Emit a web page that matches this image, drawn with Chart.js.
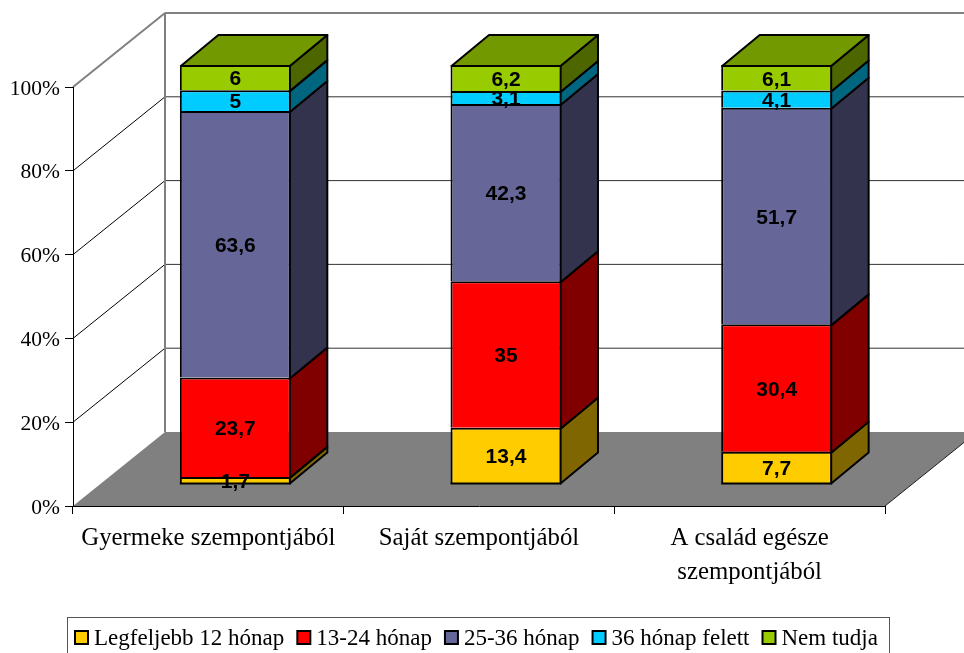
<!DOCTYPE html>
<html>
<head>
<meta charset="utf-8">
<style>
  html, body { margin: 0; padding: 0; background: #fff; overflow: hidden; }
  #wrap { width: 964px; height: 653px; position: relative; }
</style>
<script src="https://cdn.jsdelivr.net/npm/chart.js@4/dist/chart.umd.min.js"></script>
</head>
<body>
<div id="wrap"><canvas id="chart" width="964" height="653"></canvas></div>
<script>
// Data
const categories = ["Gyermeke szempontjából", "Saját szempontjából", ["A család egésze", "szempontjából"]];
const seriesNames = ["Legfeljebb 12 hónap", "13-24 hónap", "25-36 hónap", "36 hónap felett", "Nem tudja"];
const upTo12 = [1.7, 13.4, 7.7];
const from13to24 = [23.7, 35, 30.4];
const from25to36 = [63.6, 42.3, 51.7];
const over36 = [5, 3.1, 4.1];
const dontKnow = [6, 6.2, 6.1];
const yTicks = [0, 20, 40, 60, 80, 100];

const frontColors = ["#FFCC00", "#FF0000", "#666699", "#00CCFF", "#99CC00"];
const sideColors = ["#806600", "#800000", "#33334D", "#006680", "#4D6600"];
const topColor = "#739900";

// 3D look
const wallDepth = { x: 92, y: -74 };
const barShift = { x: 27, y: -22 };
const barDepth = { x: 37.5, y: -31 };

function poly(ctx, pts, fill, stroke, lw) {
  ctx.beginPath();
  pts.forEach((p, i) => (i ? ctx.lineTo(p[0], p[1]) : ctx.moveTo(p[0], p[1])));
  ctx.closePath();
  if (fill) { ctx.fillStyle = fill; ctx.fill(); }
  if (stroke) { ctx.strokeStyle = stroke; ctx.lineWidth = lw; ctx.stroke(); }
}

function line(ctx, x1, y1, x2, y2, color, lw) {
  ctx.beginPath();
  ctx.moveTo(x1, y1);
  ctx.lineTo(x2, y2);
  ctx.strokeStyle = color;
  ctx.lineWidth = lw;
  ctx.stroke();
}

// Walls, floor and their grid lines
const wallsPlugin = {
  id: "walls",
  beforeDraw(chart) {
    const ctx = chart.ctx;
    const { left, right } = chart.chartArea;
    const y = chart.scales.y;
    const dx = wallDepth.x, dy = wallDepth.y;
    const y0 = y.getPixelForValue(0);
    ctx.save();
    poly(ctx, [[left, y0], [left + dx, y0 + dy], [right + dx, y0 + dy], [right, y0]], "#808080", null, 0);
    line(ctx, right, y0, right + dx, y0 + dy, "#222", 1);
    yTicks.forEach(v => {
      if (v === 0 || v === 100) return;
      const p = y.getPixelForValue(v);
      line(ctx, left, p, left + dx, p + dy, "#000", 1);
      line(ctx, left + dx, p + dy, right + dx, p + dy, "#333", 1);
    });
    const top = y.getPixelForValue(100);
    line(ctx, left, top, left + dx, top + dy, "#808080", 2);
    line(ctx, left + dx, top + dy, right + dx, top + dy, "#808080", 2);
    line(ctx, left + dx, top + dy, left + dx, y0 + dy, "#808080", 2);
    ctx.restore();
  }
};

// Shifts the bars into the depth of the box and adds side and top faces
const boxPlugin = {
  id: "boxes",
  beforeDatasetsDraw(chart) {
    const ctx = chart.ctx;
    ctx.save();
    ctx.translate(barShift.x, barShift.y);
    ctx.lineJoin = "round";
    const dx = barDepth.x, dy = barDepth.y;
    chart.data.datasets.forEach((ds, di) => {
      chart.getDatasetMeta(di).data.forEach(bar => {
        const r = bar.x + bar.width / 2 - 1;
        const b = di === 0 ? bar.base : bar.base + 1;
        const t = bar.y + 1;
        poly(ctx, [[r, b], [r + dx, b + dy], [r + dx, t + dy], [r, t]], sideColors[di], "#000", 2);
        if (di === chart.data.datasets.length - 1) {
          const l = bar.x - bar.width / 2 + 1;
          poly(ctx, [[l, t], [l + dx, t + dy], [r + dx, t + dy], [r, t]], topColor, "#000", 2);
        }
      });
    });
  },
  afterDatasetsDraw(chart) {
    const ctx = chart.ctx;
    // closing line under each column
    chart.getDatasetMeta(0).data.forEach(bar => {
      line(ctx, bar.x - bar.width / 2, bar.base, bar.x + bar.width / 2, bar.base, "#000", 2);
    });
    ctx.font = "bold 21px 'Liberation Sans'";
    ctx.fillStyle = "#000";
    ctx.textAlign = "center";
    ctx.textBaseline = "middle";
    chart.data.datasets.forEach((ds, di) => {
      chart.getDatasetMeta(di).data.forEach((bar, i) => {
        ctx.fillText(String(ds.data[i]).replace(".", ","), bar.x, (bar.y + bar.base) / 2 + 2);
      });
    });
    ctx.restore();
  }
};

// Legend strip along the bottom edge
const legendPlugin = {
  id: "stripLegend",
  afterDraw(chart) {
    const ctx = chart.ctx;
    ctx.save();
    ctx.strokeStyle = "#555";
    ctx.lineWidth = 1;
    ctx.strokeRect(67.5, 617.5, 822, 50);
    ctx.font = "23px 'Liberation Serif'";
    ctx.textBaseline = "middle";
    ctx.textAlign = "left";
    let x = 75;
    seriesNames.forEach((name, i) => {
      ctx.fillStyle = frontColors[i];
      ctx.fillRect(x, 631, 13, 13);
      ctx.strokeStyle = "#000";
      ctx.lineWidth = 2;
      ctx.strokeRect(x, 631, 13, 13);
      ctx.fillStyle = "#000";
      ctx.fillText(name, x + 19, 639);
      x += 19 + ctx.measureText(name).width + 13;
    });
    ctx.restore();
  }
};

const seriesValues = [upTo12, from13to24, from25to36, over36, dontKnow];

new Chart(document.getElementById("chart"), {
  type: "bar",
  data: {
    labels: categories,
    datasets: seriesNames.map((name, i) => ({
      label: name,
      data: seriesValues[i],
      backgroundColor: frontColors[i],
      borderColor: "#000",
      borderWidth: { top: 2, left: 2, right: 2, bottom: 0 },
      borderSkipped: false,
      clip: false,
      categoryPercentage: 1,
      barPercentage: 0.41
    }))
  },
  options: {
    responsive: false,
    animation: false,
    layout: { padding: { top: 87, right: 79, left: 0, bottom: 0 } },
    plugins: { legend: { display: false }, tooltip: { enabled: false } },
    scales: {
      x: {
        stacked: true,
        afterFit: s => { s.height = 147; },
        grid: { drawOnChartArea: false, color: "#000", tickLength: 8, offset: true },
        border: { color: "#000", width: 1 },
        ticks: {
          color: "#000",
          font: { family: "'Liberation Serif'", size: 24.8, lineHeight: 1.35 },
          maxRotation: 0,
          autoSkip: false,
          padding: 8
        }
      },
      y: {
        stacked: true,
        min: 0,
        max: 100,
        afterFit: s => { s.width = 73; },
        afterBuildTicks: s => { s.ticks = yTicks.map(v => ({ value: v })); },
        grid: { drawOnChartArea: false, color: "#000", tickLength: 8 },
        border: { color: "#000", width: 1 },
        ticks: {
          color: "#000",
          font: { family: "'Liberation Serif'", size: 21.5 },
          padding: 5,
          labelOffset: 2,
          callback: v => v + "%"
        }
      }
    }
  },
  plugins: [wallsPlugin, boxPlugin, legendPlugin]
});
</script>
</body>
</html>
